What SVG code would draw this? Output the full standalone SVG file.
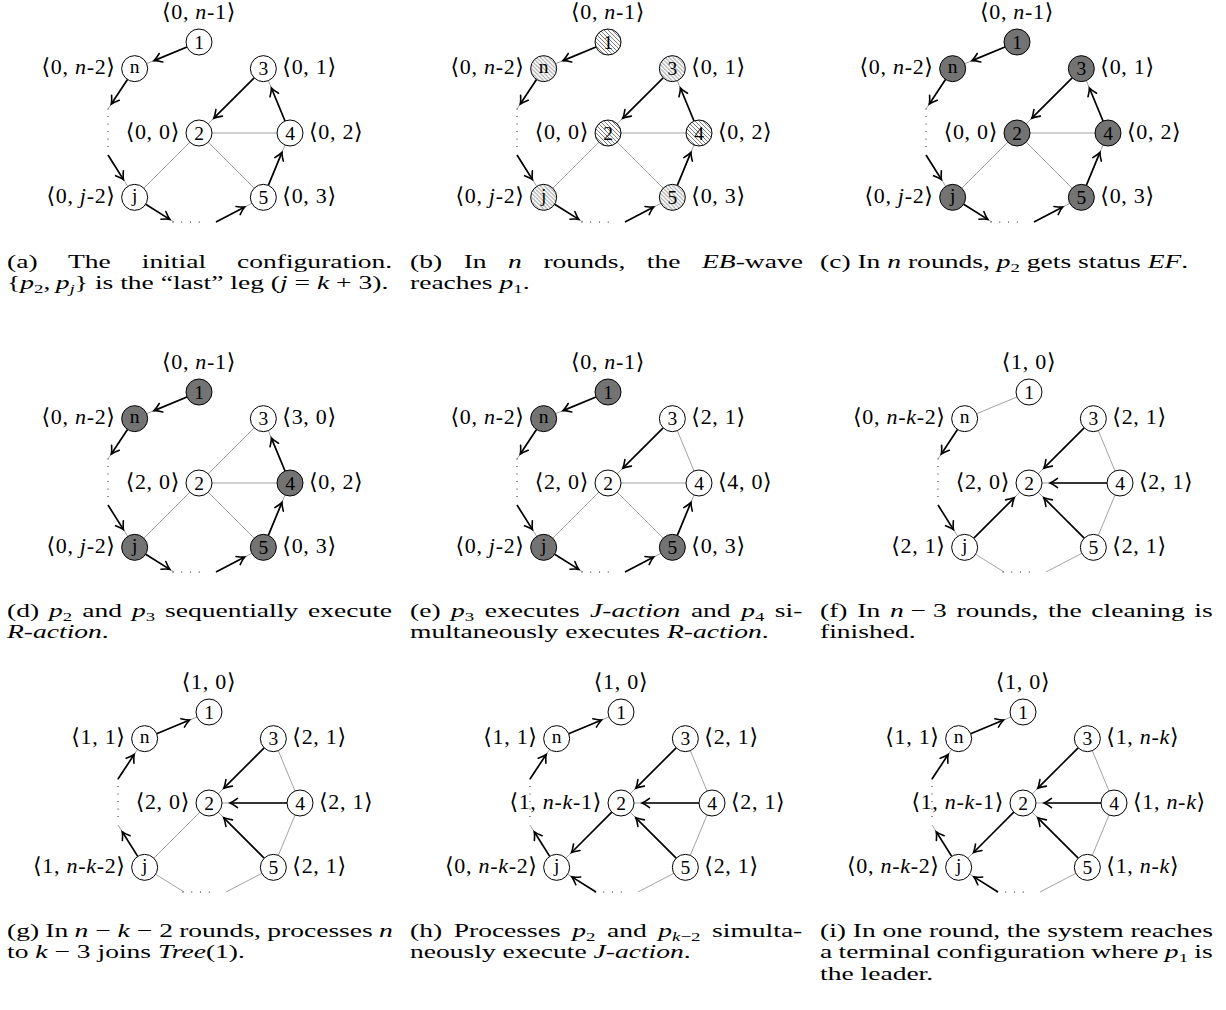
<svg xmlns="http://www.w3.org/2000/svg" width="1226" height="1010" viewBox="0 0 1226 1010">
<style>
.e{stroke:#999;stroke-width:0.9;fill:none}
.a{stroke:#000;stroke-width:1.7;fill:none;marker-end:url(#ah)}
.dl{stroke:#000;stroke-width:1.2;stroke-linecap:round;stroke-dasharray:0 7.5;fill:none}
.db{stroke:#000;stroke-width:1.2;stroke-linecap:round;stroke-dasharray:0 8.75;fill:none}
.nd circle{stroke:#000;stroke-width:1;fill:#fff}
.nd.f circle{fill:#737373}
.nd.h circle{fill:url(#hatch)}
.nt{font-family:"Liberation Serif","DejaVu Serif",serif;font-size:19.5px;text-anchor:middle}
.lb{font-family:"Liberation Serif","DejaVu Serif","DejaVu Sans",serif;font-size:22px;letter-spacing:0.7px}
.tl{text-anchor:end}
.tm{text-anchor:middle}
.m{font-style:italic}
.cap{font-family:"Liberation Serif","DejaVu Serif",serif;font-size:19px}
.s{font-size:13px}
</style>
<defs>
<marker id="ah" viewBox="-9 -6 11 12" refX="0" refY="0" markerWidth="11" markerHeight="12" markerUnits="userSpaceOnUse" orient="auto">
<path d="M-7.5,-4.6 Q-2.6,-1 0,0 Q-2.6,1 -7.5,4.6" fill="none" stroke="#000" stroke-width="1.6" stroke-linecap="round"/>
</marker>
<pattern id="hatch" patternUnits="userSpaceOnUse" width="4" height="4">
<rect width="4" height="4" fill="#fff"/>
<path d="M-1,-1L5,5M-1,3L1,5M3,-1L5,1" stroke="#666" stroke-width="0.85"/>
</pattern>
</defs>
<rect width="1226" height="1010" fill="#fff"/>

<!-- (a) -->
<g id="panel-a" transform="translate(199,133)">
<g id="a-conn">
<path class="e" d="M0,-91L-64.35,-64.35L-91,-24M-91,22L-64.35,64.35L-25,89M17,89L64.35,64.35L91,0L64.35,-64.35L0,0L91,0M0,0L64.35,64.35M0,0L-64.35,64.35"/>
<path class="dl" d="M-91,-24V21"/><path class="db" d="M-26,89H9"/>
<line class="a" x1="-12.01" y1="-86.02" x2="-44.95" y2="-72.39"/>
<line class="a" x1="-71.51" y1="-53.51" x2="-87.7" y2="-29"/>
<line class="a" x1="-91" y1="22" x2="-75.53" y2="46.58"/>
<line class="a" x1="-53.33" y1="71.25" x2="-29.24" y2="86.35"/>
<line class="a" x1="17" y1="89" x2="45.72" y2="74.05"/>
<line class="a" x1="69.33" y1="52.34" x2="82.96" y2="19.4"/>
<line class="a" x1="86.02" y1="-12.01" x2="72.39" y2="-44.95"/>
<line class="a" x1="55.16" y1="-55.16" x2="14.85" y2="-14.85"/>
</g>
<g id="a-1" class="nd" transform="translate(0,-91)"><circle r="13"/><text class="nt" y="6.5">1</text><text class="lb tm" y="-23.5">⟨0, <tspan class="m">n</tspan>-1⟩</text></g>
<g id="a-n" class="nd" transform="translate(-64.35,-64.35)"><circle r="13"/><text class="nt" y="4.5">n</text><text class="lb tl" x="-19" y="5.5">⟨0, <tspan class="m">n</tspan>-2⟩</text></g>
<g id="a-2" class="nd"><circle r="13"/><text class="nt" y="6.5">2</text><text class="lb tl" x="-19" y="5.5">⟨0, 0⟩</text></g>
<g id="a-3" class="nd" transform="translate(64.35,-64.35)"><circle r="13"/><text class="nt" y="6.5">3</text><text class="lb" x="19" y="5.5">⟨0, 1⟩</text></g>
<g id="a-4" class="nd" transform="translate(91,0)"><circle r="13"/><text class="nt" y="6.5">4</text><text class="lb" x="19" y="5.5">⟨0, 2⟩</text></g>
<g id="a-5" class="nd" transform="translate(64.35,64.35)"><circle r="13"/><text class="nt" y="6.5">5</text><text class="lb" x="19" y="5.5">⟨0, 3⟩</text></g>
<g id="a-j" class="nd" transform="translate(-64.35,64.35)"><circle r="13"/><text class="nt" y="4.5">j</text><text class="lb tl" x="-19" y="5.5">⟨0, <tspan class="m">j</tspan>-2⟩</text></g>
</g>

<!-- (b) -->
<g id="panel-b" transform="translate(608,133)">
<g id="b-conn">
<path class="e" d="M0,-91L-64.35,-64.35L-91,-24M-91,22L-64.35,64.35L-25,89M17,89L64.35,64.35L91,0L64.35,-64.35L0,0L91,0M0,0L64.35,64.35M0,0L-64.35,64.35"/>
<path class="dl" d="M-91,-24V21"/><path class="db" d="M-26,89H9"/>
<line class="a" x1="-12.01" y1="-86.02" x2="-44.95" y2="-72.39"/>
<line class="a" x1="-71.51" y1="-53.51" x2="-87.7" y2="-29"/>
<line class="a" x1="-91" y1="22" x2="-75.53" y2="46.58"/>
<line class="a" x1="-53.33" y1="71.25" x2="-29.24" y2="86.35"/>
<line class="a" x1="17" y1="89" x2="45.72" y2="74.05"/>
<line class="a" x1="69.33" y1="52.34" x2="82.96" y2="19.4"/>
<line class="a" x1="86.02" y1="-12.01" x2="72.39" y2="-44.95"/>
<line class="a" x1="55.16" y1="-55.16" x2="14.85" y2="-14.85"/>
</g>
<g id="b-1" class="nd h" transform="translate(0,-91)"><circle r="13"/><text class="nt" y="6.5">1</text><text class="lb tm" y="-23.5">⟨0, <tspan class="m">n</tspan>-1⟩</text></g>
<g id="b-n" class="nd h" transform="translate(-64.35,-64.35)"><circle r="13"/><text class="nt" y="4.5">n</text><text class="lb tl" x="-19" y="5.5">⟨0, <tspan class="m">n</tspan>-2⟩</text></g>
<g id="b-2" class="nd h"><circle r="13"/><text class="nt" y="6.5">2</text><text class="lb tl" x="-19" y="5.5">⟨0, 0⟩</text></g>
<g id="b-3" class="nd h" transform="translate(64.35,-64.35)"><circle r="13"/><text class="nt" y="6.5">3</text><text class="lb" x="19" y="5.5">⟨0, 1⟩</text></g>
<g id="b-4" class="nd h" transform="translate(91,0)"><circle r="13"/><text class="nt" y="6.5">4</text><text class="lb" x="19" y="5.5">⟨0, 2⟩</text></g>
<g id="b-5" class="nd h" transform="translate(64.35,64.35)"><circle r="13"/><text class="nt" y="6.5">5</text><text class="lb" x="19" y="5.5">⟨0, 3⟩</text></g>
<g id="b-j" class="nd h" transform="translate(-64.35,64.35)"><circle r="13"/><text class="nt" y="4.5">j</text><text class="lb tl" x="-19" y="5.5">⟨0, <tspan class="m">j</tspan>-2⟩</text></g>
</g>

<!-- (c) -->
<g id="panel-c" transform="translate(1017,133)">
<g id="c-conn">
<path class="e" d="M0,-91L-64.35,-64.35L-91,-24M-91,22L-64.35,64.35L-25,89M17,89L64.35,64.35L91,0L64.35,-64.35L0,0L91,0M0,0L64.35,64.35M0,0L-64.35,64.35"/>
<path class="dl" d="M-91,-24V21"/><path class="db" d="M-26,89H9"/>
<line class="a" x1="-12.01" y1="-86.02" x2="-44.95" y2="-72.39"/>
<line class="a" x1="-71.51" y1="-53.51" x2="-87.7" y2="-29"/>
<line class="a" x1="-91" y1="22" x2="-75.53" y2="46.58"/>
<line class="a" x1="-53.33" y1="71.25" x2="-29.24" y2="86.35"/>
<line class="a" x1="17" y1="89" x2="45.72" y2="74.05"/>
<line class="a" x1="69.33" y1="52.34" x2="82.96" y2="19.4"/>
<line class="a" x1="86.02" y1="-12.01" x2="72.39" y2="-44.95"/>
<line class="a" x1="55.16" y1="-55.16" x2="14.85" y2="-14.85"/>
</g>
<g id="c-1" class="nd f" transform="translate(0,-91)"><circle r="13"/><text class="nt" y="6.5">1</text><text class="lb tm" y="-23.5">⟨0, <tspan class="m">n</tspan>-1⟩</text></g>
<g id="c-n" class="nd f" transform="translate(-64.35,-64.35)"><circle r="13"/><text class="nt" y="4.5">n</text><text class="lb tl" x="-19" y="5.5">⟨0, <tspan class="m">n</tspan>-2⟩</text></g>
<g id="c-2" class="nd f"><circle r="13"/><text class="nt" y="6.5">2</text><text class="lb tl" x="-19" y="5.5">⟨0, 0⟩</text></g>
<g id="c-3" class="nd f" transform="translate(64.35,-64.35)"><circle r="13"/><text class="nt" y="6.5">3</text><text class="lb" x="19" y="5.5">⟨0, 1⟩</text></g>
<g id="c-4" class="nd f" transform="translate(91,0)"><circle r="13"/><text class="nt" y="6.5">4</text><text class="lb" x="19" y="5.5">⟨0, 2⟩</text></g>
<g id="c-5" class="nd f" transform="translate(64.35,64.35)"><circle r="13"/><text class="nt" y="6.5">5</text><text class="lb" x="19" y="5.5">⟨0, 3⟩</text></g>
<g id="c-j" class="nd f" transform="translate(-64.35,64.35)"><circle r="13"/><text class="nt" y="4.5">j</text><text class="lb tl" x="-19" y="5.5">⟨0, <tspan class="m">j</tspan>-2⟩</text></g>
</g>

<!-- (d) -->
<g id="panel-d" transform="translate(199,483)">
<g id="d-conn">
<path class="e" d="M0,-91L-64.35,-64.35L-91,-24M-91,22L-64.35,64.35L-25,89M17,89L64.35,64.35L91,0L64.35,-64.35L0,0L91,0M0,0L64.35,64.35M0,0L-64.35,64.35"/>
<path class="dl" d="M-91,-24V21"/><path class="db" d="M-26,89H9"/>
<line class="a" x1="-12.01" y1="-86.02" x2="-44.95" y2="-72.39"/>
<line class="a" x1="-71.51" y1="-53.51" x2="-87.7" y2="-29"/>
<line class="a" x1="-91" y1="22" x2="-75.53" y2="46.58"/>
<line class="a" x1="-53.33" y1="71.25" x2="-29.24" y2="86.35"/>
<line class="a" x1="17" y1="89" x2="45.72" y2="74.05"/>
<line class="a" x1="69.33" y1="52.34" x2="82.96" y2="19.4"/>
<line class="a" x1="86.02" y1="-12.01" x2="72.39" y2="-44.95"/>
</g>
<g id="d-1" class="nd f" transform="translate(0,-91)"><circle r="13"/><text class="nt" y="6.5">1</text><text class="lb tm" y="-23.5">⟨0, <tspan class="m">n</tspan>-1⟩</text></g>
<g id="d-n" class="nd f" transform="translate(-64.35,-64.35)"><circle r="13"/><text class="nt" y="4.5">n</text><text class="lb tl" x="-19" y="5.5">⟨0, <tspan class="m">n</tspan>-2⟩</text></g>
<g id="d-2" class="nd"><circle r="13"/><text class="nt" y="6.5">2</text><text class="lb tl" x="-19" y="5.5">⟨2, 0⟩</text></g>
<g id="d-3" class="nd" transform="translate(64.35,-64.35)"><circle r="13"/><text class="nt" y="6.5">3</text><text class="lb" x="19" y="5.5">⟨3, 0⟩</text></g>
<g id="d-4" class="nd f" transform="translate(91,0)"><circle r="13"/><text class="nt" y="6.5">4</text><text class="lb" x="19" y="5.5">⟨0, 2⟩</text></g>
<g id="d-5" class="nd f" transform="translate(64.35,64.35)"><circle r="13"/><text class="nt" y="6.5">5</text><text class="lb" x="19" y="5.5">⟨0, 3⟩</text></g>
<g id="d-j" class="nd f" transform="translate(-64.35,64.35)"><circle r="13"/><text class="nt" y="4.5">j</text><text class="lb tl" x="-19" y="5.5">⟨0, <tspan class="m">j</tspan>-2⟩</text></g>
</g>

<!-- (e) -->
<g id="panel-e" transform="translate(608,483)">
<g id="e-conn">
<path class="e" d="M0,-91L-64.35,-64.35L-91,-24M-91,22L-64.35,64.35L-25,89M17,89L64.35,64.35L91,0L64.35,-64.35L0,0L91,0M0,0L64.35,64.35M0,0L-64.35,64.35"/>
<path class="dl" d="M-91,-24V21"/><path class="db" d="M-26,89H9"/>
<line class="a" x1="-12.01" y1="-86.02" x2="-44.95" y2="-72.39"/>
<line class="a" x1="-71.51" y1="-53.51" x2="-87.7" y2="-29"/>
<line class="a" x1="-91" y1="22" x2="-75.53" y2="46.58"/>
<line class="a" x1="-53.33" y1="71.25" x2="-29.24" y2="86.35"/>
<line class="a" x1="17" y1="89" x2="45.72" y2="74.05"/>
<line class="a" x1="69.33" y1="52.34" x2="82.96" y2="19.4"/>
<line class="a" x1="55.16" y1="-55.16" x2="14.85" y2="-14.85"/>
</g>
<g id="e-1" class="nd f" transform="translate(0,-91)"><circle r="13"/><text class="nt" y="6.5">1</text><text class="lb tm" y="-23.5">⟨0, <tspan class="m">n</tspan>-1⟩</text></g>
<g id="e-n" class="nd f" transform="translate(-64.35,-64.35)"><circle r="13"/><text class="nt" y="4.5">n</text><text class="lb tl" x="-19" y="5.5">⟨0, <tspan class="m">n</tspan>-2⟩</text></g>
<g id="e-2" class="nd"><circle r="13"/><text class="nt" y="6.5">2</text><text class="lb tl" x="-19" y="5.5">⟨2, 0⟩</text></g>
<g id="e-3" class="nd" transform="translate(64.35,-64.35)"><circle r="13"/><text class="nt" y="6.5">3</text><text class="lb" x="19" y="5.5">⟨2, 1⟩</text></g>
<g id="e-4" class="nd" transform="translate(91,0)"><circle r="13"/><text class="nt" y="6.5">4</text><text class="lb" x="19" y="5.5">⟨4, 0⟩</text></g>
<g id="e-5" class="nd f" transform="translate(64.35,64.35)"><circle r="13"/><text class="nt" y="6.5">5</text><text class="lb" x="19" y="5.5">⟨0, 3⟩</text></g>
<g id="e-j" class="nd f" transform="translate(-64.35,64.35)"><circle r="13"/><text class="nt" y="4.5">j</text><text class="lb tl" x="-19" y="5.5">⟨0, <tspan class="m">j</tspan>-2⟩</text></g>
</g>

<!-- (f) -->
<g id="panel-f" transform="translate(1029,483)">
<g id="f-conn">
<path class="e" d="M0,-91L-64.35,-64.35L-91,-24M-91,22L-64.35,64.35L-25,89M17,89L64.35,64.35L91,0L64.35,-64.35L0,0L91,0M0,0L64.35,64.35M0,0L-64.35,64.35"/>
<path class="dl" d="M-91,-24V21"/><path class="db" d="M-26,89H9"/>
<line class="a" x1="-71.51" y1="-53.51" x2="-87.7" y2="-29"/>
<line class="a" x1="-91" y1="22" x2="-75.53" y2="46.58"/>
<line class="a" x1="-55.16" y1="55.16" x2="-14.85" y2="14.85"/>
<line class="a" x1="55.16" y1="-55.16" x2="14.85" y2="-14.85"/>
<line class="a" x1="78" y1="0" x2="21" y2="0"/>
<line class="a" x1="55.16" y1="55.16" x2="14.85" y2="14.85"/>
</g>
<g id="f-1" class="nd" transform="translate(0,-91)"><circle r="13"/><text class="nt" y="6.5">1</text><text class="lb tm" y="-23.5">⟨1, 0⟩</text></g>
<g id="f-n" class="nd" transform="translate(-64.35,-64.35)"><circle r="13"/><text class="nt" y="4.5">n</text><text class="lb tl" x="-19" y="5.5">⟨0, <tspan class="m">n</tspan>-<tspan class="m">k</tspan>-2⟩</text></g>
<g id="f-2" class="nd"><circle r="13"/><text class="nt" y="6.5">2</text><text class="lb tl" x="-19" y="5.5">⟨2, 0⟩</text></g>
<g id="f-3" class="nd" transform="translate(64.35,-64.35)"><circle r="13"/><text class="nt" y="6.5">3</text><text class="lb" x="19" y="5.5">⟨2, 1⟩</text></g>
<g id="f-4" class="nd" transform="translate(91,0)"><circle r="13"/><text class="nt" y="6.5">4</text><text class="lb" x="19" y="5.5">⟨2, 1⟩</text></g>
<g id="f-5" class="nd" transform="translate(64.35,64.35)"><circle r="13"/><text class="nt" y="6.5">5</text><text class="lb" x="19" y="5.5">⟨2, 1⟩</text></g>
<g id="f-j" class="nd" transform="translate(-64.35,64.35)"><circle r="13"/><text class="nt" y="4.5">j</text><text class="lb tl" x="-19" y="5.5">⟨2, 1⟩</text></g>
</g>

<!-- (g) -->
<g id="panel-g" transform="translate(209,803)">
<g id="g-conn">
<path class="e" d="M0,-91L-64.35,-64.35L-91,-24M-91,22L-64.35,64.35L-25,89M17,89L64.35,64.35L91,0L64.35,-64.35L0,0L91,0M0,0L64.35,64.35M0,0L-64.35,64.35"/>
<path class="dl" d="M-91,-24V21"/><path class="db" d="M-26,89H9"/>
<line class="a" x1="-52.34" y1="-69.33" x2="-19.4" y2="-82.96"/>
<line class="a" x1="-91" y1="-24" x2="-74.82" y2="-48.5"/>
<line class="a" x1="-71.27" y1="53.35" x2="-86.74" y2="28.77"/>
<line class="a" x1="55.16" y1="-55.16" x2="14.85" y2="-14.85"/>
<line class="a" x1="78" y1="0" x2="21" y2="0"/>
<line class="a" x1="55.16" y1="55.16" x2="14.85" y2="14.85"/>
</g>
<g id="g-1" class="nd" transform="translate(0,-91)"><circle r="13"/><text class="nt" y="6.5">1</text><text class="lb tm" y="-23.5">⟨1, 0⟩</text></g>
<g id="g-n" class="nd" transform="translate(-64.35,-64.35)"><circle r="13"/><text class="nt" y="4.5">n</text><text class="lb tl" x="-19" y="5.5">⟨1, 1⟩</text></g>
<g id="g-2" class="nd"><circle r="13"/><text class="nt" y="6.5">2</text><text class="lb tl" x="-19" y="5.5">⟨2, 0⟩</text></g>
<g id="g-3" class="nd" transform="translate(64.35,-64.35)"><circle r="13"/><text class="nt" y="6.5">3</text><text class="lb" x="19" y="5.5">⟨2, 1⟩</text></g>
<g id="g-4" class="nd" transform="translate(91,0)"><circle r="13"/><text class="nt" y="6.5">4</text><text class="lb" x="19" y="5.5">⟨2, 1⟩</text></g>
<g id="g-5" class="nd" transform="translate(64.35,64.35)"><circle r="13"/><text class="nt" y="6.5">5</text><text class="lb" x="19" y="5.5">⟨2, 1⟩</text></g>
<g id="g-j" class="nd" transform="translate(-64.35,64.35)"><circle r="13"/><text class="nt" y="4.5">j</text><text class="lb tl" x="-19" y="5.5">⟨1, <tspan class="m">n</tspan>-<tspan class="m">k</tspan>-2⟩</text></g>
</g>

<!-- (h) -->
<g id="panel-h" transform="translate(621,803)">
<g id="h-conn">
<path class="e" d="M0,-91L-64.35,-64.35L-91,-24M-91,22L-64.35,64.35L-25,89M17,89L64.35,64.35L91,0L64.35,-64.35L0,0L91,0M0,0L64.35,64.35M0,0L-64.35,64.35"/>
<path class="dl" d="M-91,-24V21"/><path class="db" d="M-26,89H9"/>
<line class="a" x1="-52.34" y1="-69.33" x2="-19.4" y2="-82.96"/>
<line class="a" x1="-91" y1="-24" x2="-74.82" y2="-48.5"/>
<line class="a" x1="-71.27" y1="53.35" x2="-86.74" y2="28.77"/>
<line class="a" x1="-9.19" y1="9.19" x2="-49.5" y2="49.5"/>
<line class="a" x1="55.16" y1="-55.16" x2="14.85" y2="-14.85"/>
<line class="a" x1="78" y1="0" x2="21" y2="0"/>
<line class="a" x1="55.16" y1="55.16" x2="14.85" y2="14.85"/>
<line class="a" x1="-25" y1="89" x2="-49.1" y2="73.9"/>
</g>
<g id="h-1" class="nd" transform="translate(0,-91)"><circle r="13"/><text class="nt" y="6.5">1</text><text class="lb tm" y="-23.5">⟨1, 0⟩</text></g>
<g id="h-n" class="nd" transform="translate(-64.35,-64.35)"><circle r="13"/><text class="nt" y="4.5">n</text><text class="lb tl" x="-19" y="5.5">⟨1, 1⟩</text></g>
<g id="h-2" class="nd"><circle r="13"/><text class="nt" y="6.5">2</text><text class="lb tl" x="-19" y="5.5">⟨1, <tspan class="m">n</tspan>-<tspan class="m">k</tspan>-1⟩</text></g>
<g id="h-3" class="nd" transform="translate(64.35,-64.35)"><circle r="13"/><text class="nt" y="6.5">3</text><text class="lb" x="19" y="5.5">⟨2, 1⟩</text></g>
<g id="h-4" class="nd" transform="translate(91,0)"><circle r="13"/><text class="nt" y="6.5">4</text><text class="lb" x="19" y="5.5">⟨2, 1⟩</text></g>
<g id="h-5" class="nd" transform="translate(64.35,64.35)"><circle r="13"/><text class="nt" y="6.5">5</text><text class="lb" x="19" y="5.5">⟨2, 1⟩</text></g>
<g id="h-j" class="nd" transform="translate(-64.35,64.35)"><circle r="13"/><text class="nt" y="4.5">j</text><text class="lb tl" x="-19" y="5.5">⟨0, <tspan class="m">n</tspan>-<tspan class="m">k</tspan>-2⟩</text></g>
</g>

<!-- (i) -->
<g id="panel-i" transform="translate(1023,803)">
<g id="i-conn">
<path class="e" d="M0,-91L-64.35,-64.35L-91,-24M-91,22L-64.35,64.35L-25,89M17,89L64.35,64.35L91,0L64.35,-64.35L0,0L91,0M0,0L64.35,64.35M0,0L-64.35,64.35"/>
<path class="dl" d="M-91,-24V21"/><path class="db" d="M-26,89H9"/>
<line class="a" x1="-52.34" y1="-69.33" x2="-19.4" y2="-82.96"/>
<line class="a" x1="-91" y1="-24" x2="-74.82" y2="-48.5"/>
<line class="a" x1="-71.27" y1="53.35" x2="-86.74" y2="28.77"/>
<line class="a" x1="-9.19" y1="9.19" x2="-49.5" y2="49.5"/>
<line class="a" x1="55.16" y1="-55.16" x2="14.85" y2="-14.85"/>
<line class="a" x1="78" y1="0" x2="21" y2="0"/>
<line class="a" x1="55.16" y1="55.16" x2="14.85" y2="14.85"/>
<line class="a" x1="-25" y1="89" x2="-49.1" y2="73.9"/>
</g>
<g id="i-1" class="nd" transform="translate(0,-91)"><circle r="13"/><text class="nt" y="6.5">1</text><text class="lb tm" y="-23.5">⟨1, 0⟩</text></g>
<g id="i-n" class="nd" transform="translate(-64.35,-64.35)"><circle r="13"/><text class="nt" y="4.5">n</text><text class="lb tl" x="-19" y="5.5">⟨1, 1⟩</text></g>
<g id="i-2" class="nd"><circle r="13"/><text class="nt" y="6.5">2</text><text class="lb tl" x="-19" y="5.5">⟨1, <tspan class="m">n</tspan>-<tspan class="m">k</tspan>-1⟩</text></g>
<g id="i-3" class="nd" transform="translate(64.35,-64.35)"><circle r="13"/><text class="nt" y="6.5">3</text><text class="lb" x="19" y="5.5">⟨1, <tspan class="m">n</tspan>-<tspan class="m">k</tspan>⟩</text></g>
<g id="i-4" class="nd" transform="translate(91,0)"><circle r="13"/><text class="nt" y="6.5">4</text><text class="lb" x="19" y="5.5">⟨1, <tspan class="m">n</tspan>-<tspan class="m">k</tspan>⟩</text></g>
<g id="i-5" class="nd" transform="translate(64.35,64.35)"><circle r="13"/><text class="nt" y="6.5">5</text><text class="lb" x="19" y="5.5">⟨1, <tspan class="m">n</tspan>-<tspan class="m">k</tspan>⟩</text></g>
<g id="i-j" class="nd" transform="translate(-64.35,64.35)"><circle r="13"/><text class="nt" y="4.5">j</text><text class="lb tl" x="-19" y="5.5">⟨0, <tspan class="m">n</tspan>-<tspan class="m">k</tspan>-2⟩</text></g>
</g>

<!-- captions -->
<g id="captions" class="cap">
<g transform="translate(7,0) scale(1.45,1)">
<text x="0" y="268" word-spacing="16.6">(a) The initial configuration.</text>
<text x="0" y="289">{<tspan class="m">p</tspan><tspan class="s" dy="4">2</tspan><tspan dy="-4">,&#8201;</tspan><tspan class="m">p</tspan><tspan class="s m" dy="4">j</tspan><tspan dy="-4">} is the “last” leg (</tspan><tspan class="m">j</tspan>&#8197;=&#8197;<tspan class="m">k</tspan>&#8197;+&#8197;3).</text>
<text x="0" y="617" word-spacing="2.1">(d) <tspan class="m">p</tspan><tspan class="s" dy="4">2</tspan><tspan dy="-4"> and </tspan><tspan class="m">p</tspan><tspan class="s" dy="4">3</tspan><tspan dy="-4"> sequentially execute</tspan></text>
<text x="0" y="638"><tspan class="m">R-action</tspan>.</text>
<text x="0" y="937" word-spacing="-0.45">(g) In <tspan class="m">n</tspan>&#8197;−&#8197;<tspan class="m">k</tspan>&#8197;−&#8197;2 rounds, processes <tspan class="m">n</tspan></text>
<text x="0" y="958">to <tspan class="m">k</tspan>&#8197;−&#8197;3 joins <tspan class="m">Tree</tspan>(1).</text>
</g>
<g transform="translate(410,0) scale(1.45,1)">
<text x="0" y="268" word-spacing="10.1">(b) In <tspan class="m">n</tspan> rounds, the <tspan class="m">EB</tspan>-wave</text>
<text x="0" y="289">reaches <tspan class="m">p</tspan><tspan class="s" dy="4">1</tspan><tspan dy="-4">.</tspan></text>
<text x="0" y="617" word-spacing="2.5">(e) <tspan class="m">p</tspan><tspan class="s" dy="4">3</tspan><tspan dy="-4"> executes </tspan><tspan class="m">J-action</tspan> and <tspan class="m">p</tspan><tspan class="s" dy="4">4</tspan><tspan dy="-4"> si-</tspan></text>
<text x="0" y="638">multaneously executes <tspan class="m">R-action</tspan>.</text>
<text x="0" y="937" word-spacing="3.2">(h) Processes <tspan class="m">p</tspan><tspan class="s" dy="4">2</tspan><tspan dy="-4"> and </tspan><tspan class="m">p</tspan><tspan class="s" dy="4"><tspan class="m">k</tspan>−2</tspan><tspan dy="-4"> simulta-</tspan></text>
<text x="0" y="958">neously execute <tspan class="m">J-action</tspan>.</text>
</g>
<g transform="translate(820,0) scale(1.45,1)">
<text x="0" y="268">(c) In <tspan class="m">n</tspan> rounds, <tspan class="m">p</tspan><tspan class="s" dy="4">2</tspan><tspan dy="-4"> gets status </tspan><tspan class="m">EF</tspan>.</text>
<text x="0" y="617" word-spacing="1.95">(f) In <tspan class="m">n</tspan>&#8197;−&#8197;3 rounds, the cleaning is</text>
<text x="0" y="638">finished.</text>
<text x="0" y="937" word-spacing="-0.1">(i) In one round, the system reaches</text>
<text x="0" y="958" word-spacing="-0.4">a terminal configuration where <tspan class="m">p</tspan><tspan class="s" dy="4">1</tspan><tspan dy="-4"> is</tspan></text>
<text x="0" y="980">the leader.</text>
</g>
</g>
</svg>
